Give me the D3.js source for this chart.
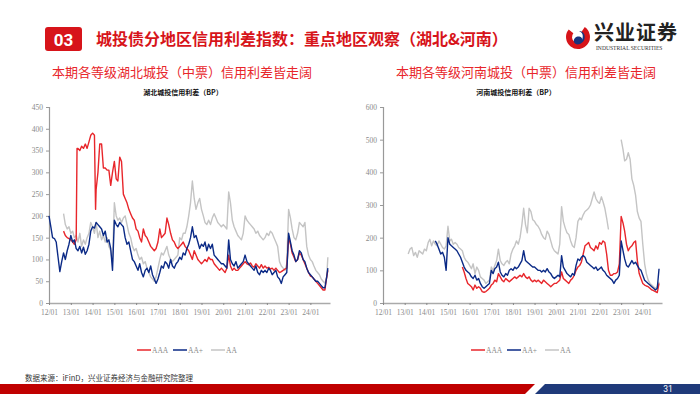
<!DOCTYPE html>
<html>
<head>
<meta charset="utf-8">
<script src="https://cdn.jsdelivr.net/npm/d3@7"></script>
<style>
  body { margin: 0; background: #fff; }
  svg { display: block; }
</style>
</head>
<body>
<div id="page"></div>
<script>
// Hubei spreads (BP), monthly readings taken from the chart
const hbAAA = [
  ["12/09",165],["12/10",155],["12/11",150],["12/12",148],["13/01",145],["13/02",140],["13/03",135],["13/04",145],
  ["13/04/15",355],["13/05",355],["13/06",350],["13/07",360],["13/08",355],["13/09",365],["13/10",355],["13/11",370],
  ["13/12",385],["14/01",390],["14/02",385],["14/02/20",215],["14/03",260],["14/04",300],["14/05",365],["14/06",365],
  ["14/07",310],["14/08",310],["14/09",305],["14/10",305],["14/11",270],["14/12",300],["15/01",325],["15/02",285],
  ["15/03",280],["15/04",335],["15/05",325],["15/06",250],["15/07",240],["15/08",230],["15/09",215],["15/10",205],
  ["15/11",195],["15/12",190],["16/01",170],["16/02",165],["16/03",150],["16/04",140],["16/05",170],["16/06",155],
  ["16/07",150],["16/08",140],["16/09",130],["16/10",125],["16/11",120],["16/12",125],["17/01",140],["17/02",170],
  ["17/03",150],["17/04",155],["17/05",160],["17/06",195],["17/07",180],["17/08",160],["17/09",145],["17/10",140],
  ["17/11",130],["17/12",125],["18/01",130],["18/02",135],["18/03",140],["18/04",130],["18/05",125],["18/06",120],
  ["18/07",110],["18/08",100],["18/09",120],["18/10",110],["18/11",100],["18/12",95],["19/01",90],["19/02",95],
  ["19/03",100],["19/04",95],["19/05",105],["19/06",100],["19/07",100],["19/08",90],["19/09",85],["19/10",80],
  ["19/11",75],["19/12",80],["20/01",75],["20/02",70],["20/03",80],["20/04",110],["20/05",85],["20/06",75],
  ["20/07",80],["20/08",75],["20/09",75],["20/10",80],["20/11",85],["20/12",90],["21/01",95],["21/02",90],
  ["21/03",88],["21/04",92],["21/05",85],["21/06",82],["21/07",90],["21/08",85],["21/09",80],["21/10",88],
  ["21/11",80],["21/12",85],["22/01",80],["22/02",82],["22/03",78],["22/04",80],["22/05",75],["22/06",80],
  ["22/07",75],["22/08",70],["22/09",72],["22/10",75],["22/11",78],["22/12",80],["23/01",150],["23/02",135],
  ["23/03",115],["23/04",105],["23/05",95],["23/06",100],["23/07",115],["23/08",110],["23/09",100],["23/10",90],
  ["23/11",80],["23/12",70],["24/01",62],["24/02",60],["24/03",55],["24/04",50],["24/05",45],["24/06",40],
  ["24/07",35],["24/08",30],["24/09",30],["24/10",60],["24/10/20",75]
];
const hbAAplus = [
  ["12/01",200],["12/02",175],["12/03",150],["12/04",148],["12/05",140],["12/06",105],["12/07",72],["12/08",95],
  ["12/09",115],["12/10",100],["12/11",120],["12/12",135],["13/01",155],["13/02",140],["13/03",145],["13/04",125],
  ["13/05",120],["13/06",130],["13/07",115],["13/08",128],["13/09",112],["13/10",120],["13/11",135],["13/12",165],
  ["14/01",175],["14/02",172],["14/03",185],["14/04",180],["14/05",175],["14/06",170],["14/07",155],["14/08",165],
  ["14/09",140],["14/10",145],["14/11",125],["14/12",75],["15/01",190],["15/02",180],["15/03",175],["15/04",185],
  ["15/05",180],["15/06",175],["15/07",150],["15/08",135],["15/09",140],["15/10",120],["15/11",100],["15/12",95],
  ["16/01",85],["16/02",75],["16/03",90],["16/04",70],["16/05",60],["16/06",75],["16/07",80],["16/08",70],
  ["16/09",85],["16/10",65],["16/11",55],["16/12",45],["17/01",55],["17/02",70],["17/03",85],["17/04",80],
  ["17/05",95],["17/06",90],["17/07",80],["17/08",100],["17/09",85],["17/10",80],["17/11",90],["17/12",95],
  ["18/01",105],["18/02",100],["18/03",115],["18/04",110],["18/05",125],["18/06",135],["18/07",150],["18/08",175],
  ["18/09",150],["18/10",155],["18/11",140],["18/12",125],["19/01",135],["19/02",130],["19/03",140],["19/04",120],
  ["19/05",135],["19/06",125],["19/07",135],["19/08",110],["19/09",105],["19/10",100],["19/11",95],["19/12",90],
  ["20/01",90],["20/02",85],["20/03",80],["20/04",145],["20/05",100],["20/06",90],["20/07",85],["20/08",95],
  ["20/09",80],["20/10",85],["20/11",90],["20/12",95],["21/01",110],["21/02",95],["21/03",90],["21/04",85],
  ["21/05",80],["21/06",75],["21/07",85],["21/08",70],["21/09",65],["21/10",75],["21/11",70],["21/12",75],
  ["22/01",70],["22/02",80],["22/03",75],["22/04",65],["22/05",70],["22/06",75],["22/07",60],["22/08",55],
  ["22/09",45],["22/10",60],["22/11",65],["22/12",70],["23/01",160],["23/02",140],["23/03",120],["23/04",110],
  ["23/05",95],["23/06",100],["23/07",120],["23/08",115],["23/09",100],["23/10",95],["23/11",80],["23/12",70],
  ["24/01",65],["24/02",60],["24/03",55],["24/04",50],["24/05",50],["24/06",45],["24/07",40],["24/08",35],
  ["24/09",35],["24/10",60],["24/10/20",80]
];
const hbAA = [
  ["12/09",205],["12/10",180],["12/11",170],["12/12",175],["13/01",160],["13/02",165],["13/03",150],["13/04",155],
  ["13/05",140],["13/06",160],["13/07",130],["13/08",145],["13/09",135],["13/10",150],["13/11",160],["13/12",185],
  ["14/01",175],["14/02",160],["14/03",185],["14/04",150],["14/05",165],["14/06",145],["14/07",155],["14/08",140],
  ["14/09",150],["14/10",130],["14/11",120],["14/12",95],["15/01",230],["15/02",200],["15/03",190],["15/04",195],
  ["15/05",185],["15/06",195],["15/07",200],["15/08",180],["15/09",160],["15/10",150],["15/11",130],["15/12",120],
  ["16/01",125],["16/02",110],["16/03",100],["16/04",105],["16/05",90],["16/06",95],["16/07",80],["16/08",70],
  ["16/09",60],["16/10",55],["16/11",50],["16/12",60],["17/01",80],["17/02",100],["17/03",115],["17/04",110],
  ["17/05",120],["17/06",130],["17/07",110],["17/08",100],["17/09",95],["17/10",100],["17/11",105],["17/12",110],
  ["18/01",150],["18/02",145],["18/03",160],["18/04",160],["18/05",175],["18/06",200],["18/07",230],["18/08",280],
  ["18/09",240],["18/10",215],["18/11",230],["18/12",240],["19/01",215],["19/02",200],["19/03",185],["19/04",180],
  ["19/05",190],["19/06",180],["19/07",195],["19/08",205],["19/09",195],["19/10",185],["19/11",180],["19/12",175],
  ["20/01",180],["20/02",175],["20/03",170],["20/04",255],["20/05",230],["20/06",190],["20/07",175],["20/08",165],
  ["20/09",155],["20/10",150],["20/11",145],["20/12",160],["21/01",200],["21/02",190],["21/03",185],["21/04",180],
  ["21/05",175],["21/06",170],["21/07",160],["21/08",165],["21/09",155],["21/10",150],["21/11",145],["21/12",150],
  ["22/01",160],["22/02",155],["22/03",165],["22/04",160],["22/05",150],["22/06",140],["22/07",130],["22/08",95],
  ["22/09",85],["22/10",80],["22/11",75],["22/12",90],["23/01",215],["23/02",195],["23/03",170],["23/04",150],
  ["23/05",145],["23/06",160],["23/07",185],["23/08",180],["23/09",175],["23/10",185],["23/11",130],["23/12",110],
  ["24/01",100],["24/02",95],["24/03",85],["24/04",75],["24/05",70],["24/06",65],["24/07",55],["24/08",50],
  ["24/09",45],["24/10",60],["24/10/20",105]
];

// Henan spreads (BP)
const hnAAA = [
  ["15/09",110],["15/10",95],["15/11",75],["15/12",60],["16/01",55],["16/02",50],["16/03",40],["16/04",55],
  ["16/05",45],["16/06",50],["16/07",45],["16/08",35],["16/09",33],["16/10",35],["16/11",40],["16/12",45],
  ["17/01",55],["17/02",60],["17/03",70],["17/04",65],["17/05",90],["17/06",80],["17/07",70],["17/08",65],
  ["17/09",75],["17/10",70],["17/11",65],["17/12",70],["18/01",75],["18/02",80],["18/03",75],["18/04",80],
  ["18/05",85],["18/06",80],["18/07",90],["18/08",80],["18/09",75],["18/10",80],["18/11",70],["18/12",65],
  ["19/01",70],["19/02",65],["19/03",70],["19/04",65],["19/05",60],["19/06",70],["19/07",65],["19/08",60],
  ["19/09",55],["19/10",50],["19/11",55],["19/12",60],["20/01",60],["20/02",65],["20/03",70],["20/04",95],
  ["20/05",75],["20/06",70],["20/07",65],["20/08",60],["20/09",70],["20/10",75],["20/11",85],["20/12",100],
  ["21/01",110],["21/02",115],["21/03",125],["21/04",150],["21/05",175],["21/06",180],["21/07",185],["21/08",170],
  ["21/09",165],["21/10",160],["21/11",175],["21/12",165],["22/01",185],["22/02",180],["22/03",190],["22/04",185],
  ["22/05",150],["22/06",100],["22/07",85],["22/08",85],["22/09",90],["22/10",90],["22/11",95],["22/12",120],
  ["23/01",265],["23/02",245],["23/03",220],["23/04",180],["23/05",160],["23/06",170],["23/07",175],["23/08",185],
  ["23/09",190],["23/10",130],["23/11",90],["23/12",75],["24/01",60],["24/02",55],["24/03",52],["24/04",50],
  ["24/05",45],["24/06",40],["24/07",38],["24/08",35],["24/09",32],["24/10",60]
];
const hnAAplus = [
  ["14/06",190],["14/07",180],["14/08",165],["14/09",150],["14/10",155],["14/11",140],["14/12",100],["15/01",200],
  ["15/02",180],["15/03",175],["15/04",170],["15/05",165],["15/06",160],["15/07",150],["15/08",140],["15/09",125],
  ["15/10",110],["15/11",100],["15/12",95],["16/01",90],["16/02",80],["16/03",75],["16/04",85],["16/05",70],
  ["16/06",75],["16/07",60],["16/08",50],["16/09",45],["16/10",50],["16/11",55],["16/12",60],["17/01",100],
  ["17/02",90],["17/03",105],["17/04",110],["17/05",125],["17/06",95],["17/07",85],["17/08",80],["17/09",90],
  ["17/10",85],["17/11",100],["17/12",105],["18/01",100],["18/02",110],["18/03",105],["18/04",110],["18/05",120],
  ["18/06",130],["18/07",160],["18/08",130],["18/09",125],["18/10",120],["18/11",115],["18/12",110],["19/01",110],
  ["19/02",105],["19/03",100],["19/04",100],["19/05",95],["19/06",100],["19/07",95],["19/08",105],["19/09",95],
  ["19/10",90],["19/11",80],["19/12",75],["20/01",80],["20/02",85],["20/03",80],["20/04",145],["20/05",110],
  ["20/06",100],["20/07",90],["20/08",85],["20/09",80],["20/10",90],["20/11",85],["20/12",115],["21/01",135],
  ["21/02",130],["21/03",140],["21/04",145],["21/05",140],["21/06",125],["21/07",120],["21/08",115],["21/09",110],
  ["21/10",105],["21/11",110],["21/12",100],["22/01",105],["22/02",110],["22/03",100],["22/04",95],["22/05",85],
  ["22/06",80],["22/07",75],["22/08",70],["22/09",60],["22/10",70],["22/11",75],["22/12",85],["23/01",190],
  ["23/02",160],["23/03",135],["23/04",115],["23/05",110],["23/06",120],["23/07",130],["23/08",120],["23/09",125],
  ["23/10",115],["23/11",105],["23/12",100],["24/01",85],["24/02",70],["24/03",65],["24/04",60],["24/05",55],
  ["24/06",50],["24/07",45],["24/08",40],["24/09",45],["24/10",105]
];
const hnAA = [
  ["13/03",150],["13/04",165],["13/05",170],["13/06",145],["13/07",155],["13/08",140],["13/09",160],["13/10",155],
  ["13/11",150],["13/12",165],["14/01",160],["14/02",185],["14/03",195],["14/04",175],["14/05",190],["14/06",180],
  ["14/07",175],["14/08",190],["14/09",180],["14/10",170],["14/11",165],["14/12",175],["15/01",235],["15/02",190],
  ["15/03",195],["15/04",180],["15/05",185],["15/06",180],["15/07",170],["15/08",165],["15/09",160],["15/10",140],
  ["15/11",130],["15/12",125],["16/01",115],["16/02",105],["16/03",120],["16/04",90],["16/05",110],["16/06",100],
  ["16/07",80],["16/08",75],["16/09",70],["16/10",60],["16/11",65],["16/12",70],["17/01",110],["17/02",100],
  ["17/03",115],["17/04",130],["17/05",165],["17/06",130],["17/07",120],["17/08",115],["17/09",125],["17/10",130],
  ["17/11",120],["17/12",150],["18/01",165],["18/02",175],["18/03",190],["18/04",180],["18/05",200],["18/06",240],
  ["18/07",290],["18/08",240],["18/09",215],["18/10",290],["18/11",280],["18/12",255],["19/01",250],["19/02",240],
  ["19/03",235],["19/04",225],["19/05",210],["19/06",200],["19/07",195],["19/08",220],["19/09",210],["19/10",190],
  ["19/11",170],["19/12",160],["20/01",155],["20/02",150],["20/03",180],["20/04",295],["20/05",250],["20/06",230],
  ["20/07",215],["20/08",210],["20/09",190],["20/10",175],["20/11",170],["20/12",200],["21/01",250],["21/02",260],
  ["21/03",255],["21/04",270],["21/05",280],["21/06",285],["21/07",290],["21/08",300],["21/09",320],["21/10",340],
  ["21/11",320],["21/12",310],["22/01",305],["22/02",325],["22/03",310],["22/04",290],["22/05",260],["22/06",225],
  ["22/07",null],["23/01",500],["23/02",470],["23/03",435],["23/04",440],["23/05",460],["23/06",440],["23/07",380],
  ["23/08",360],["23/09",330],["23/10",280],["23/11",260],["23/12",250],["24/01",180],["24/02",120],["24/03",90],
  ["24/04",70],["24/05",60],["24/06",55],["24/07",50],["24/08",45],["24/09",50],["24/10",65]
];

const seriesNames = ["AAA", "AA+", "AA"];
const seriesColors = ["#e8262b", "#0b2a86", "#c4c4c4"];
const yearTicks = ["12/01","13/01","14/01","15/01","16/01","17/01","18/01","19/01","20/01","21/01","22/01","23/01","24/01"];

const W = 700, H = 394;
const svg = d3.select("#page").append("svg")
    .attr("width", W)
    .attr("height", H)
    .attr("viewBox", [0, 0, W, H]);

const parseM = d3.timeParse("%y/%m");
const parseD = d3.timeParse("%y/%m/%d");
const parseDate = s => parseD(s) || parseM(s);

const cjk = "'Noto Sans CJK SC', sans-serif";
const serif = "'Liberation Serif', 'DejaVu Serif', serif";

// ---- header ----
svg.append("rect")
    .attr("x", 45).attr("y", 27).attr("width", 37).attr("height", 24)
    .attr("rx", 3).attr("fill", "#d7141a");
svg.append("text")
    .attr("x", 63.5).attr("y", 45.5)
    .attr("text-anchor", "middle")
    .attr("fill", "#fff")
    .style("font-family", "Roboto, sans-serif")
    .style("font-weight", "bold")
    .style("font-size", "17px")
    .text("03");
svg.append("text")
    .attr("x", 96).attr("y", 45)
    .attr("fill", "#d7141a")
    .style("font-family", cjk)
    .style("font-weight", "bold")
    .style("font-size", "16px")
    .text("城投债分地区信用利差指数：重点地区观察（湖北&河南）");

// logo
const logo = svg.append("g").attr("transform", "translate(578,37)");
logo.append("path")
    .attr("d", d3.arc()({innerRadius: 6, outerRadius: 12, startAngle: 0.6, endAngle: 5.4}))
    .attr("fill", "#d7141a");
logo.append("path")
    .attr("d", "M1,-6 C8,-6 9,4 2,7 C-3,9 -6,4 -3,1 C0,-2 5,0 4,3 C6,-2 4,-5 1,-6 Z")
    .attr("fill", "#17347f");
svg.append("text")
    .attr("x", 594).attr("y", 40)
    .attr("fill", "#222")
    .style("font-family", cjk)
    .style("font-weight", "bold")
    .style("font-size", "20px")
    .style("letter-spacing", "1px")
    .text("兴业证券");
svg.append("text")
    .attr("x", 596).attr("y", 50)
    .attr("fill", "#333")
    .style("font-family", serif)
    .style("font-size", "5.6px")
    .text("INDUSTRIAL SECURITIES");

// ---- charts ----
function drawChart(opts) {
    const g = svg.append("g");

    g.append("text")
        .attr("x", opts.subX).attr("y", 77)
        .attr("text-anchor", "middle")
        .attr("fill", "#e8262b")
        .style("font-family", cjk)
        .style("font-size", "13px")
        .text(opts.subtitle);

    g.append("text")
        .attr("x", opts.titleX).attr("y", 95)
        .attr("text-anchor", "middle")
        .attr("fill", "#111")
        .style("font-family", cjk)
        .style("font-weight", "bold")
        .style("font-size", "7px")
        .text(opts.title);

    const x = d3.scaleTime()
        .domain([parseDate("12/01"), opts.xEnd])
        .range([opts.left, opts.right]);
    const y = d3.scaleLinear()
        .domain([0, opts.yMax])
        .range([303, 107]);

    // y axis
    const yAxis = g.append("g")
        .attr("transform", `translate(${opts.left},0)`)
        .call(d3.axisLeft(y).tickValues(d3.range(0, opts.yMax + 1, opts.yStep)).tickSize(3).tickPadding(3));
    yAxis.select(".domain").attr("stroke", "#999").attr("stroke-width", 1.2);
    yAxis.selectAll(".tick line").attr("stroke", "#999");
    yAxis.selectAll("text")
        .attr("fill", "#8a8a8a")
        .style("font-family", serif)
        .style("font-size", "7.5px");

    // x axis
    const xAxis = g.append("g")
        .attr("transform", "translate(0,303)")
        .call(d3.axisBottom(x).tickValues(yearTicks.map(parseDate))
            .tickFormat(d3.timeFormat("%y/%m")).tickSize(2).tickSizeOuter(0).tickPadding(5));
    xAxis.select(".domain").attr("stroke", "#aaa").attr("stroke-width", 1.6);
    xAxis.selectAll(".tick line").attr("stroke", "#888");
    xAxis.selectAll("text")
        .attr("fill", "#8a8a8a")
        .style("font-family", serif)
        .style("font-size", "7.5px");

    const line = d3.line()
        .defined(d => d[1] != null)
        .x(d => x(parseDate(d[0])))
        .y(d => y(d[1]));

    // draw AA first, then AAA, then AA+ on top
    [2, 0, 1].forEach(i => {
        g.append("path")
            .datum(opts.series[i])
            .attr("d", line)
            .attr("fill", "none")
            .attr("stroke", seriesColors[i])
            .attr("stroke-width", 1.4)
            .attr("stroke-linejoin", "round");
    });

    // legend
    const leg = g.append("g").attr("transform", `translate(${opts.legendX},350)`);
    const legOffsets = [0, 36, 74];
    seriesNames.forEach((name, i) => {
        const item = leg.append("g").attr("transform", `translate(${legOffsets[i]},0)`);
        item.append("line")
            .attr("x1", 0).attr("x2", 14)
            .attr("stroke", seriesColors[i])
            .attr("stroke-opacity", 0.75)
            .attr("stroke-width", 2);
        item.append("text")
            .attr("x", 15).attr("y", 2.5)
            .attr("fill", "#8a8a8a")
            .style("font-family", serif)
            .style("font-size", "7.5px")
            .text(name);
    });
}

drawChart({
    subtitle: "本期各等级湖北城投（中票）信用利差皆走阔",
    subX: 182,
    title: "湖北城投信用利差（BP）",
    titleX: 183,
    left: 49, right: 330,
    xEnd: parseDate("24/11/25"),
    yMax: 450, yStep: 50,
    series: [hbAAA, hbAAplus, hbAA],
    legendX: 137
});

drawChart({
    subtitle: "本期各等级河南城投（中票）信用利差皆走阔",
    subX: 526,
    title: "河南城投信用利差（BP）",
    titleX: 516,
    left: 383, right: 662,
    xEnd: parseDate("24/11/20"),
    yMax: 600, yStep: 100,
    series: [hnAAA, hnAAplus, hnAA],
    legendX: 471
});

// ---- footer ----
svg.append("text")
    .attr("x", 25).attr("y", 381)
    .attr("fill", "#333")
    .style("font-family", cjk)
    .style("font-size", "7.5px")
    .text("数据来源：iFinD，兴业证券经济与金融研究院整理");

svg.append("polygon")
    .attr("points", "0,384 535,384 525,394 0,394")
    .attr("fill", "#c00000");
svg.append("polygon")
    .attr("points", "545,384 700,384 700,394 535,394")
    .attr("fill", "#1f3a7a");
svg.append("text")
    .attr("x", 668).attr("y", 392)
    .attr("text-anchor", "middle")
    .attr("fill", "#fff")
    .style("font-family", "Roboto, sans-serif")
    .style("font-size", "8.5px")
    .text("31");
</script>
</body>
</html>
